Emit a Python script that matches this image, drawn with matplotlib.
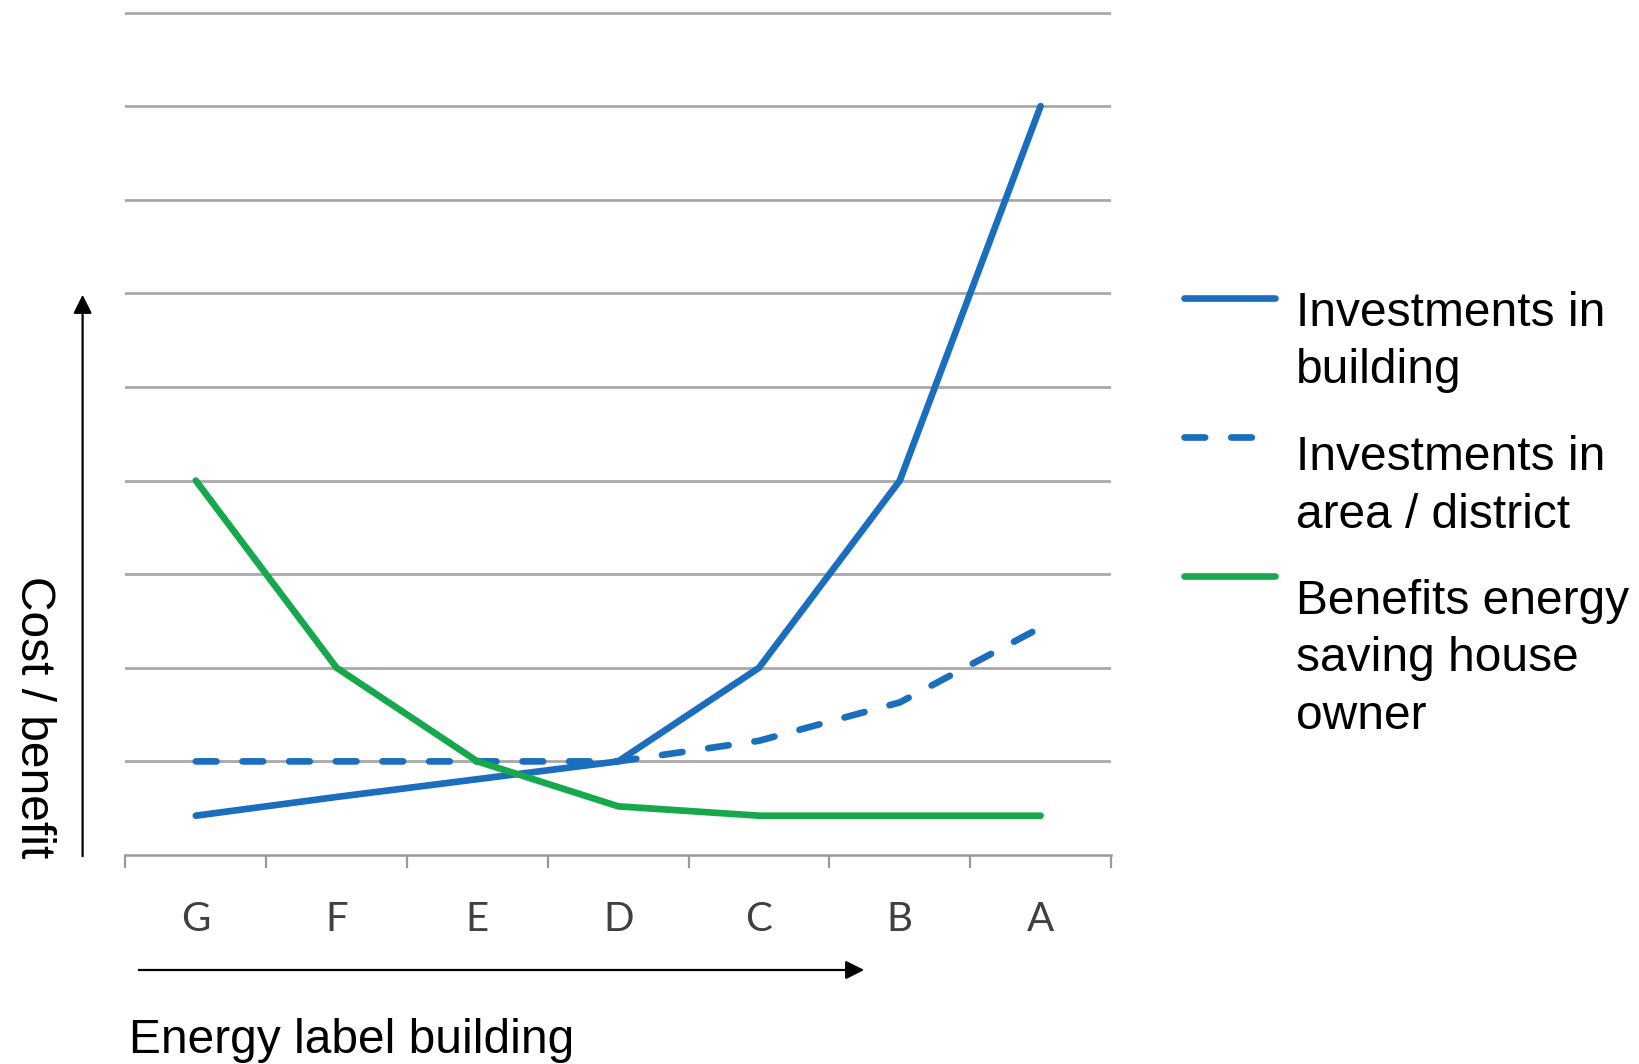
import matplotlib
matplotlib.use("Agg")
import matplotlib.pyplot as plt
from matplotlib.lines import Line2D

# energy labels, worst -> best
labels = ["G", "F", "E", "D", "C", "B", "A"]
invest_building = [0.42, 0.62, 0.81, 1.0, 2.0, 4.0, 8.0]
invest_district = [1.0, 1.0, 1.0, 1.0, 1.22, 1.63, 2.43]
benefits_owner = [4.0, 2.0, 1.0, 0.52, 0.42, 0.42, 0.42]

legend_labels = [["Investments in", "building"],
                 ["Investments in", "area / district"],
                 ["Benefits energy", "saving house", "owner"]]

BLUE = "#1b6ebe"
GREEN = "#17a84b"
GRID = "#a8a8a8"
LW = 4.8
DASH = (3.1, 3.9)

W, H = 1639, 1064
fig = plt.figure(figsize=(W / 100, H / 100), dpi=100)

# axes box in pixels (full size reference)
x0, x1 = 125.4, 1111.0
y_bottom = 855.0
unit = (855.0 - 12.5) / 9.0
ytop = 9.1
ax = fig.add_axes([x0 / W, 1 - y_bottom / H, (x1 - x0) / W, ytop * unit / H])

xs = list(range(len(labels)))
ax.plot(xs, invest_building, color=BLUE, lw=LW, solid_capstyle="round", zorder=3)
ax.plot(xs, invest_district, color=BLUE, lw=LW, dashes=DASH,
        dash_capstyle="round", zorder=3)
ax.plot(xs, benefits_owner, color=GREEN, lw=LW, solid_capstyle="round", zorder=4)

ax.set_xlim(-0.5, len(labels) - 0.5)
ax.set_ylim(0, ytop)

# horizontal gridlines
ax.set_yticks(range(1, 10))
ax.yaxis.grid(True, color=GRID, lw=2.0)
ax.tick_params(axis="y", length=0, labelleft=False)

# ticks on category boundaries, labels in the middle
ax.set_xticks([i - 0.5 for i in range(len(labels) + 1)])
ax.set_xticklabels([])
ax.set_xticks(xs, minor=True)
ax.set_xticklabels(labels, minor=True, family="Lato", fontsize=29, color="#404040")
ax.tick_params(axis="x", which="major", direction="out", length=9.5, width=1.6, color="#999999")
ax.tick_params(axis="x", which="minor", length=0, pad=33)

for side in ["left", "right", "top"]:
    ax.spines[side].set_visible(False)
ax.spines["bottom"].set_color("#999999")
ax.spines["bottom"].set_linewidth(1.8)

# arrows and axis captions
arrow = dict(arrowstyle="-|>", color="black", lw=1.6, mutation_scale=28)
ax.annotate("", xy=(82.6, H - 292), xytext=(82.6, H - 859), xycoords="figure pixels",
            textcoords="figure pixels", arrowprops=arrow, annotation_clip=False)
ax.annotate("", xy=(867, H - 970), xytext=(136, H - 970), xycoords="figure pixels",
            textcoords="figure pixels", arrowprops=arrow, annotation_clip=False)

font = "Liberation Sans"
fig.text(33.5 / W, 1 - 717 / H, "Cost / benefit", rotation=270, ha="center", va="center",
         family=font, fontsize=34.5)
fig.text(128.6 / W, 1 - 1053 / H, "Energy label building", ha="left", va="baseline",
         family=font, fontsize=34.5)

# legend drawn by hand to the right of the plot
handle_y = [298, 437, 576]
text_base = [326, 470, 613.6]
line_gap = 57.5
styles = [dict(color=BLUE), dict(color=BLUE, dashes=DASH, dash_capstyle="round"),
          dict(color=GREEN)]
for hy, tb, lines, st in zip(handle_y, text_base, legend_labels, styles):
    fig.add_artist(Line2D([1184 / W, 1275 / W], [1 - hy / H, 1 - hy / H], lw=LW,
                          solid_capstyle="round", transform=fig.transFigure, **st))
    for k, txt in enumerate(lines):
        fig.text(1296 / W, 1 - (tb + k * line_gap) / H, txt, ha="left", va="baseline",
                 family=font, fontsize=34.5)

fig.savefig("out.png", dpi=100)
